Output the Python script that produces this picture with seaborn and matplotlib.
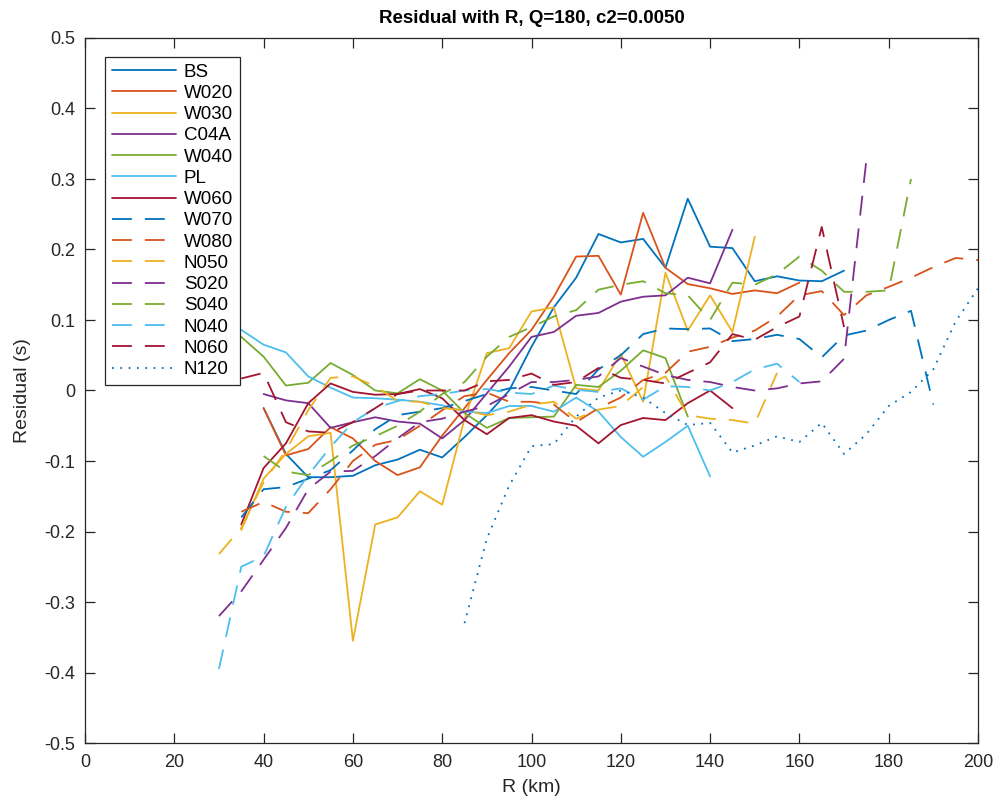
import numpy as np
import pandas as pd
import matplotlib
matplotlib.use("Agg")
import matplotlib.pyplot as plt
import seaborn as sns

# ---------------- data ----------------
R_BS = [40, 45, 50, 55, 60, 65, 70, 75, 80, 85, 90, 95, 100, 105, 110, 115, 120, 125, 130, 135, 140, 145, 150, 155, 160, 165, 170]
V_BS = [-0.025, -0.09, -0.123, -0.123, -0.121, -0.106, -0.098, -0.084, -0.095, -0.066, -0.035, 0.0, 0.062, 0.118, 0.16, 0.222, 0.21, 0.215, 0.174, 0.272, 0.204, 0.202, 0.155, 0.162, 0.156, 0.155, 0.17]

R_W020 = [40, 45, 50, 55, 60, 65, 70, 75, 80, 85, 90, 95, 100, 105, 110, 115, 120, 125, 130, 135, 140, 145, 150, 155, 160]
V_W020 = [-0.025, -0.092, -0.083, -0.052, -0.068, -0.1, -0.12, -0.109, -0.064, -0.025, 0.015, 0.053, 0.086, 0.133, 0.19, 0.191, 0.136, 0.252, 0.174, 0.151, 0.145, 0.137, 0.142, 0.138, 0.153]

R_W030 = [35, 40, 45, 50, 55, 60, 65, 70, 75, 80, 85, 90, 95, 100, 105, 110, 115, 120, 125, 130, 135, 140, 145, 150]
V_W030 = [-0.198, -0.125, -0.09, -0.065, -0.06, -0.355, -0.19, -0.18, -0.143, -0.162, -0.04, 0.053, 0.06, 0.112, 0.118, 0.003, 0.0, 0.052, -0.016, 0.167, 0.085, 0.135, 0.083, 0.218]

R_C04A = [40, 45, 50, 55, 60, 65, 70, 75, 80, 85, 90, 95, 100, 105, 110, 115, 120, 125, 130, 135, 140, 145]
V_C04A = [-0.005, -0.014, -0.018, -0.053, -0.045, -0.038, -0.044, -0.047, -0.068, -0.042, -0.004, 0.034, 0.076, 0.083, 0.106, 0.11, 0.126, 0.133, 0.135, 0.16, 0.152, 0.228]

R_W040 = [30, 35, 40, 45, 50, 55, 60, 65, 70, 75, 80, 85, 90, 95, 100, 105, 110, 115, 120, 125, 130, 135]
V_W040 = [0.09, 0.076, 0.048, 0.007, 0.011, 0.039, 0.022, 0.0, -0.004, 0.016, 0.0, -0.032, -0.053, -0.039, -0.038, -0.037, 0.008, 0.005, 0.028, 0.057, 0.046, -0.037]

R_PL = [30, 35, 40, 45, 50, 55, 60, 65, 70, 75, 80, 85, 90, 95, 100, 105, 110, 115, 120, 125, 130, 135, 140]
V_PL = [0.1, 0.086, 0.065, 0.054, 0.02, 0.004, -0.01, -0.011, -0.013, -0.016, -0.021, -0.03, -0.032, -0.022, -0.022, -0.03, -0.01, -0.03, -0.066, -0.094, -0.073, -0.05, -0.122]

R_W060 = [35, 40, 45, 50, 55, 60, 65, 70, 75, 80, 85, 90, 95, 100, 105, 110, 115, 120, 125, 130, 135, 140, 145]
V_W060 = [-0.19, -0.11, -0.075, -0.018, 0.01, -0.002, -0.006, -0.005, 0.002, -0.011, -0.042, -0.062, -0.039, -0.035, -0.044, -0.05, -0.075, -0.049, -0.039, -0.042, -0.018, 0.0, -0.025]

R_W070 = [35, 40, 45, 50, 55, 60, 65, 70, 75, 80, 85, 90, 95, 100, 105, 110, 115, 120, 125, 130, 135, 140, 145, 150, 155, 160, 165, 170, 175, 180, 185, 190]
V_W070 = [-0.18, -0.14, -0.137, -0.125, -0.113, -0.085, -0.055, -0.035, -0.03, -0.025, -0.015, -0.005, 0.003, 0.005, 0.0, -0.005, 0.03, 0.05, 0.08, 0.088, 0.087, 0.088, 0.07, 0.073, 0.079, 0.073, 0.047, 0.078, 0.085, 0.1, 0.113, -0.02]

R_W080 = [35, 40, 45, 50, 55, 60, 65, 70, 75, 80, 85, 90, 95, 100, 105, 110, 115, 120, 125, 130, 135, 140, 145, 150, 155, 160, 165, 170, 175, 180, 185, 190, 195, 200]
V_W080 = [-0.172, -0.158, -0.172, -0.174, -0.14, -0.1, -0.077, -0.07, -0.05, -0.028, -0.008, -0.003, -0.016, -0.016, -0.02, -0.045, -0.025, -0.01, 0.015, 0.025, 0.055, 0.062, 0.075, 0.085, 0.105, 0.135, 0.141, 0.107, 0.135, 0.147, 0.16, 0.175, 0.188, 0.185]

R_N050 = [30, 35, 40, 45, 50, 55, 60, 65, 70, 75, 80, 85, 90, 95, 100, 105, 110, 115, 120, 125, 130, 135, 140, 145, 150, 155]
V_N050 = [-0.232, -0.195, -0.13, -0.085, -0.028, 0.018, 0.02, 0.006, -0.015, -0.016, -0.025, -0.028, -0.035, -0.03, -0.02, -0.016, -0.04, -0.027, -0.022, 0.005, 0.02, -0.035, -0.04, -0.042, -0.047, 0.025]

R_S020 = [30, 35, 40, 45, 50, 55, 60, 65, 70, 75, 80, 85, 90, 95, 100, 105, 110, 115, 120, 125, 130, 135, 140, 145, 150, 155, 160, 165, 170, 175]
V_S020 = [-0.32, -0.285, -0.24, -0.195, -0.14, -0.115, -0.114, -0.093, -0.068, -0.045, -0.04, -0.03, -0.022, -0.005, 0.012, 0.012, 0.015, 0.02, 0.046, 0.034, 0.022, 0.015, 0.012, 0.005, 0.0, 0.003, 0.01, 0.013, 0.045, 0.327]

R_S040 = [40, 45, 50, 55, 60, 65, 70, 75, 80, 85, 90, 95, 100, 105, 110, 115, 120, 125, 130, 135, 140, 145, 150, 155, 160, 165, 170, 175, 180, 185]
V_S040 = [-0.093, -0.115, -0.12, -0.1, -0.078, -0.065, -0.05, -0.03, -0.005, 0.012, 0.048, 0.076, 0.09, 0.105, 0.114, 0.143, 0.15, 0.155, 0.138, 0.135, 0.1, 0.153, 0.15, 0.165, 0.19, 0.17, 0.14, 0.14, 0.142, 0.3]

R_N040 = [30, 35, 40, 45, 50, 55, 60, 65, 70, 75, 80, 85, 90, 95, 100, 105, 110, 115, 120, 125, 130, 135, 140, 145, 150, 155, 160]
V_N040 = [-0.395, -0.25, -0.235, -0.165, -0.12, -0.08, -0.045, -0.025, -0.015, -0.008, -0.005, 0.0, 0.002, -0.003, -0.005, 0.007, 0.001, -0.002, 0.003, -0.013, 0.006, 0.005, 0.0, 0.012, 0.03, 0.038, 0.012]

R_N060 = [35, 40, 45, 50, 55, 60, 65, 70, 75, 80, 85, 90, 95, 100, 105, 110, 115, 120, 125, 130, 135, 140, 145, 150, 155, 160, 165, 170]
V_N060 = [0.017, 0.025, -0.045, -0.058, -0.06, -0.045, -0.025, -0.005, 0.0, 0.0, 0.0, 0.013, 0.015, 0.024, 0.008, 0.012, 0.032, 0.018, 0.015, 0.01, 0.025, 0.04, 0.08, 0.072, 0.09, 0.105, 0.232, 0.09]

R_N120 = [85, 90, 95, 100, 105, 110, 115, 120, 125, 130, 135, 140, 145, 150, 155, 160, 165, 170, 175, 180, 185, 190, 195, 200]
V_N120 = [-0.33, -0.21, -0.135, -0.079, -0.076, -0.037, -0.01, 0.0, -0.01, -0.032, -0.049, -0.046, -0.088, -0.078, -0.065, -0.073, -0.046, -0.09, -0.062, -0.022, -0.002, 0.03, 0.098, 0.145]

STATIONS = ["BS", "W020", "W030", "C04A", "W040", "PL", "W060",
            "W070", "W080", "N050", "S020", "S040", "N040", "N060", "N120"]
R_LIST = [R_BS, R_W020, R_W030, R_C04A, R_W040, R_PL, R_W060,
          R_W070, R_W080, R_N050, R_S020, R_S040, R_N040, R_N060, R_N120]
V_LIST = [V_BS, V_W020, V_W030, V_C04A, V_W040, V_PL, V_W060,
          V_W070, V_W080, V_N050, V_S020, V_S040, V_N040, V_N060, V_N120]

X_TICKS = [0, 20, 40, 60, 80, 100, 120, 140, 160, 180, 200]
Y_TICKS = [0.5, 0.4, 0.3, 0.2, 0.1, 0.0, -0.1, -0.2, -0.3, -0.4, -0.5]
Y_TICKLABELS = ["0.5", "0.4", "0.3", "0.2", "0.1", "0", "-0.1", "-0.2", "-0.3", "-0.4", "-0.5"]

# ---------------- style ----------------
sns.set_style("ticks")
plt.rcParams["font.family"] = ["Liberation Sans", "DejaVu Sans"]

colors = ["#0072BD", "#D95319", "#EDB120", "#7E2F8E", "#77AC30", "#4DBEEE", "#A2142F"]
LW = 1.3
DASH = (0, (11.0, 7.2))
DOT = (0, (1.0, 3.6))

fig = plt.figure(figsize=(9.98, 8.05), dpi=100)
ax = fig.add_axes([85 / 998, 1 - 743 / 805, (978 - 85) / 998, (743 - 38) / 805])

for i, (name, rr, vv) in enumerate(zip(STATIONS, R_LIST, V_LIST)):
    df = pd.DataFrame({"R": rr, "V": vv})
    if i < 7:
        ls = "-"
        c = colors[i]
    elif i < 14:
        ls = DASH
        c = colors[i - 7]
    else:
        ls = DOT
        c = colors[0]
    sns.lineplot(data=df, x="R", y="V", ax=ax, color=c, linewidth=LW,
                 linestyle=ls, label=name, sort=False, estimator=None)

ax.set_xlim(0, 200)
ax.set_ylim(-0.5, 0.5)
ax.set_xticks(X_TICKS)
ax.set_yticks(Y_TICKS)
ax.set_yticklabels(Y_TICKLABELS)
txtc = "#262626"
ax.tick_params(direction="in", length=7, width=0.9, top=True, right=True,
               labelsize=13, colors=txtc)
ax.tick_params(axis="x", pad=8)
ax.tick_params(axis="y", pad=7)
for s in ax.spines.values():
    s.set_visible(True)
    s.set_linewidth(0.9)
    s.set_color(txtc)

ax.set_xlabel("R (km)", fontsize=14, color=txtc, labelpad=6)
ax.set_ylabel("Residual (s)", fontsize=14, color=txtc, labelpad=10)
ax.set_title("Residual with R, Q=180, c2=0.0050", fontsize=13.5, fontweight="bold",
             color="black", pad=11)

leg = ax.legend(loc="upper left", bbox_to_anchor=(0.0224, 0.973), fontsize=13.5,
                frameon=True, fancybox=False, framealpha=1, edgecolor=txtc,
                handlelength=3.45, handletextpad=0.4, labelspacing=0.22,
                borderpad=0.35, borderaxespad=0.0)
leg.get_frame().set_linewidth(0.9)
for t in leg.get_texts():
    t.set_color("black")

fig.savefig("out.png", dpi=100)
